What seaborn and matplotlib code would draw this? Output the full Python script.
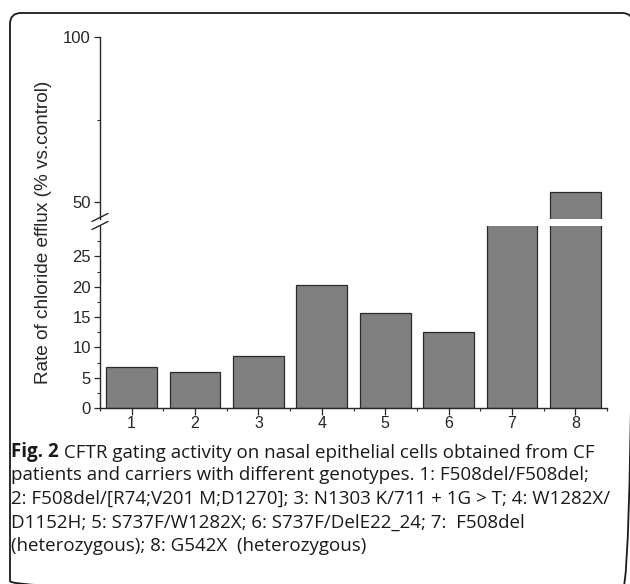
import numpy as np
import pandas as pd
import matplotlib
matplotlib.use("Agg")
import matplotlib.pyplot as plt
import seaborn as sns
from matplotlib.patches import FancyBboxPatch
from matplotlib.lines import Line2D

# ---- data ----
genotype = [1, 2, 3, 4, 5, 6, 7, 8]
efflux = [6.8, 6.0, 8.6, 20.3, 15.6, 12.6, 38.0, 53.1]   # bar 7 sits inside the axis break

y_low_ticks = [0, 5, 10, 15, 20, 25]
y_up_ticks = [50, 100]

caption_bold = "Fig. 2"
caption_lines = [
    "CFTR gating activity on nasal epithelial cells obtained from CF",
    "patients and carriers with different genotypes. 1: F508del/F508del;",
    "2: F508del/[R74;V201 M;D1270]; 3: N1303 K/711 + 1G > T; 4: W1282X/",
    "D1152H; 5: S737F/W1282X; 6: S737F/DelE22_24; 7:  F508del",
    "(heterozygous); 8: G542X  (heterozygous)",
]

df = pd.DataFrame({"genotype": genotype, "efflux": efflux})

sns.set_theme(style="ticks")
plt.rcParams["font.family"] = ["Liberation Sans", "DejaVu Sans"]

W, H = 630, 584
fig = plt.figure(figsize=(W / 100, H / 100), dpi=100)

# background layer in pixel coordinates (frame + caption)
bg = fig.add_axes([0, 0, 1, 1], zorder=0)
bg.set_xlim(0, W)
bg.set_ylim(H, 0)
bg.axis("off")
bg.add_patch(FancyBboxPatch((10, 13), 623, 579, boxstyle="round,pad=0,rounding_size=11",
                            fc="none", ec="#1a1a1a", lw=1.3))


def px(x0, y0, x1, y1):
    return [x0 / W, 1 - y1 / H, (x1 - x0) / W, (y1 - y0) / H]


ax_up = fig.add_axes(px(100, 37, 607, 218.5), zorder=2)
ax_low = fig.add_axes(px(100, 226, 607, 408), zorder=2)

ink = "#262626"
bar_kw = dict(data=df, x="genotype", y="efflux", native_scale=True, width=0.8,
              color="#808080", saturation=1, edgecolor="#2a2a2a", linewidth=0.9)
for ax in (ax_up, ax_low):
    sns.barplot(ax=ax, **bar_kw)
    ax.set_xlim(0.5, 8.5)
    ax.set_xlabel("")
    ax.set_ylabel("")
    ax.set_facecolor("none")
    for s in ("top", "right"):
        ax.spines[s].set_visible(False)
    ax.spines["left"].set_linewidth(1.0)
    ax.spines["left"].set_color(ink)
    ax.tick_params(axis="y", which="major", length=4.5, width=0.9, color=ink,
                   labelsize=12, pad=2, labelcolor=ink)
    ax.tick_params(axis="y", which="minor", length=2.5, width=0.8, color=ink)

ax_up.set_ylim(45, 100)
ax_up.set_yticks(y_up_ticks)
ax_up.set_yticks([75], minor=True)
ax_up.spines["bottom"].set_visible(False)
ax_up.set_xticks([])

ax_low.set_ylim(0, 30)
ax_low.set_yticks(y_low_ticks)
ax_low.set_yticks(np.arange(2.5, 30, 5), minor=True)
ax_low.set_xticks(genotype)
ax_low.set_xticklabels([str(g) for g in genotype])
ax_low.set_xticks(np.arange(0.5, 9, 1), minor=True)
ax_low.spines["bottom"].set_linewidth(1.0)
ax_low.spines["bottom"].set_color(ink)
ax_low.tick_params(axis="x", which="major", length=5, width=0.9, color=ink,
                   labelsize=11.5, pad=1, labelcolor=ink)
ax_low.tick_params(axis="x", which="minor", length=2.5, width=0.8, color=ink)

# break marks on the y axis
for yb in (217.5, 225.5):
    bg.add_line(Line2D([92, 108], [yb + 4, yb - 4], color=ink, lw=1.0, zorder=3))

fig.text(44 / W, 1 - 232 / H, "Rate of chloride efflux (% vs.control)", rotation=90,
         ha="center", va="center", fontsize=13.7, color=ink)

# caption
cap_font = ["Open Sans", "DejaVu Sans"]
cap_size = 13.5
line_y = [452, 475.5, 499, 522.5, 546]
bold = bg.text(11, line_y[0], caption_bold, fontsize=cap_size, fontweight="bold",
               family=cap_font, va="center", ha="left", color="#1a1a1a")
bg.annotate(" " + caption_lines[0], xy=(1, 0), xycoords=bold, va="bottom", ha="left",
            fontsize=cap_size, family=cap_font, color="#1a1a1a")
for y, line in zip(line_y[1:], caption_lines[1:]):
    bg.text(11, y, line, fontsize=cap_size, family=cap_font, va="center", ha="left",
            color="#1a1a1a")

fig.savefig("out.png", dpi=100)
